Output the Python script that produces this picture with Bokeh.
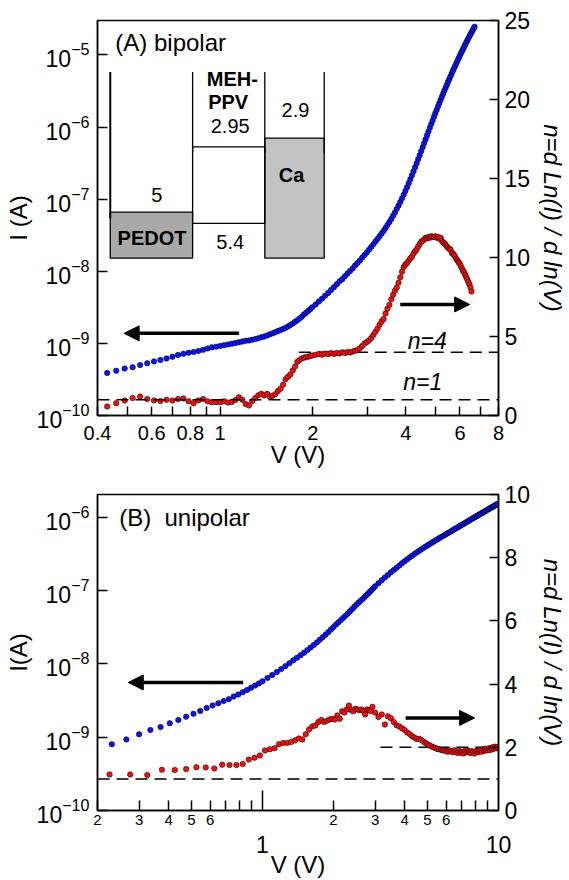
from bokeh.plotting import figure
from bokeh.layouts import column
from bokeh.models import (Range1d, LinearScale, LinearAxis, FixedTicker,
                          CustomJSTickFormatter, Arrow, NormalHead, Label, Span)
from bokeh.embed import file_html
from bokeh.resources import INLINE

FONT = "Liberation Sans"
BLUE = "#0a14f0"
RED = "#f01010"

# ---------------- Panel A (bipolar) ----------------
volt_A = [0.43, 0.46, 0.49, 0.52, 0.55, 0.58, 0.61, 0.64, 0.67, 0.70,
          0.73, 0.76, 0.79, 0.82, 0.85, 0.88, 0.91, 0.94, 0.97, 1.00,
          1.03, 1.06, 1.09, 1.12, 1.15, 1.18, 1.21, 1.24, 1.27, 1.30,
          1.33, 1.36, 1.39, 1.42, 1.45, 1.48, 1.51, 1.54, 1.57, 1.60,
          1.63, 1.66, 1.69, 1.72, 1.75, 1.78, 1.81, 1.84, 1.87, 1.90,
          1.93, 1.96, 1.99,
          2.04, 2.09, 2.14, 2.19, 2.24, 2.29, 2.34, 2.39, 2.44, 2.49,
          2.54, 2.59, 2.64, 2.69, 2.74, 2.79, 2.84, 2.89, 2.94, 2.99,
          3.04, 3.09, 3.14, 3.19, 3.24, 3.29, 3.34, 3.39, 3.44, 3.49,
          3.54, 3.59, 3.64, 3.69, 3.74, 3.79, 3.84, 3.89, 3.94, 3.99,
          4.04, 4.09, 4.14, 4.19, 4.24, 4.29, 4.34, 4.39, 4.44, 4.49,
          4.54, 4.59, 4.64, 4.69, 4.74, 4.79, 4.84, 4.89, 4.94, 4.99,
          5.04, 5.09, 5.14, 5.19, 5.24, 5.29, 5.34, 5.39, 5.44, 5.49,
          5.54, 5.59, 5.64, 5.69, 5.74, 5.79, 5.84, 5.89, 5.94, 5.99,
          6.04, 6.09, 6.14, 6.19, 6.24, 6.29, 6.34, 6.39, 6.44, 6.49,
          6.54, 6.59, 6.64, 6.69]

# log10 of current I (A)
log_current_A = [-9.41, -9.38, -9.35, -9.33, -9.30, -9.275, -9.25, -9.23, -9.21, -9.185,
                 -9.16, -9.145, -9.13, -9.12, -9.105, -9.09, -9.07, -9.055, -9.045, -9.035,
                 -9.025, -9.015, -9.005, -8.995, -8.985, -8.975, -8.965, -8.96, -8.95, -8.94,
                 -8.93, -8.915, -8.905, -8.89, -8.875, -8.86, -8.845, -8.83, -8.815, -8.80,
                 -8.785, -8.765, -8.745, -8.725, -8.70, -8.68, -8.655, -8.63, -8.60, -8.575,
                 -8.55, -8.525, -8.50,
                 -8.46, -8.42, -8.38, -8.34, -8.30, -8.26, -8.22, -8.18, -8.14, -8.11,
                 -8.07, -8.03, -7.995, -7.96, -7.92, -7.885, -7.85, -7.81, -7.775, -7.74,
                 -7.70, -7.663, -7.626, -7.589, -7.552, -7.515, -7.478, -7.44, -7.40, -7.36,
                 -7.318, -7.275, -7.23, -7.185, -7.138, -7.09, -7.04, -6.99, -6.94, -6.887,
                 -6.834, -6.78, -6.725, -6.67, -6.614, -6.558, -6.502, -6.446, -6.39, -6.335,
                 -6.28, -6.225, -6.17, -6.116, -6.063, -6.01, -5.958, -5.908, -5.858, -5.81,
                 -5.763, -5.716, -5.67, -5.625, -5.58, -5.537, -5.495, -5.454, -5.413, -5.373,
                 -5.334, -5.296, -5.258, -5.221, -5.185, -5.149, -5.114, -5.08, -5.046, -5.013,
                 -4.98, -4.948, -4.917, -4.886, -4.856, -4.826, -4.797, -4.769, -4.741, -4.714,
                 -4.687, -4.661, -4.635, -4.61]

# ideality factor n = d ln(I) / d ln(V)
ideality_A = [0.57, 0.78, 0.95, 1.10, 1.20, 1.05, 0.95, 0.91, 0.99, 0.95,
              1.05, 1.08, 0.90, 0.78, 0.95, 1.04, 0.90, 0.84, 0.84, 0.84,
              0.90, 0.82, 0.85, 0.98, 1.15, 1.00, 0.72, 0.63, 0.90, 1.10,
              1.28, 1.37, 1.27, 1.37, 1.18, 1.25, 1.35, 1.55, 1.70, 1.95,
              2.30, 2.45, 2.60, 2.85, 3.10, 3.40, 3.52, 3.60, 3.66, 3.70,
              3.72, 3.76, 3.80,
              3.84, 3.90, 3.85, 3.92, 3.88, 3.95, 3.90, 3.96, 3.93, 4.00,
              3.95, 4.02, 3.98, 4.05, 4.10, 4.15, 4.25, 4.40, 4.55, 4.65,
              4.75, 4.90, 5.10, 5.30, 5.50, 5.75, 5.95, 6.10, 6.45, 6.75,
              7.00, 7.35, 7.65, 7.90, 8.10, 8.40, 8.75, 9.10, 9.40, 9.55,
              9.65, 9.80, 9.95, 10.05, 10.25, 10.40, 10.50, 10.70, 10.85, 11.00,
              11.05, 11.15, 11.25, 11.20, 11.30, 11.25, 11.35, 11.30, 11.30, 11.35,
              11.25, 11.30, 11.20, 11.25, 11.05, 10.95, 10.90, 10.80, 10.70, 10.60,
              10.55, 10.50, 10.30, 10.25, 10.15, 10.05, 9.90, 9.80, 9.70, 9.60,
              9.45, 9.30, 9.15, 9.05, 8.90, 8.75, 8.60, 8.45, 8.30, 8.10,
              7.85]

# ---------------- Panel B (unipolar) ----------------
volt_B = [0.23, 0.265, 0.30, 0.335, 0.37, 0.405, 0.44, 0.475, 0.51, 0.545,
          0.58, 0.615, 0.65, 0.685, 0.72, 0.755, 0.79, 0.825, 0.86, 0.895,
          0.93, 0.965, 1.00,
          1.05, 1.10, 1.15, 1.20, 1.25, 1.30, 1.35, 1.40, 1.45, 1.50,
          1.55, 1.60, 1.65, 1.70, 1.75, 1.80, 1.85, 1.90, 1.95, 2.00,
          2.05, 2.10, 2.15, 2.20, 2.25, 2.30, 2.35, 2.40, 2.45, 2.50,
          2.55, 2.60, 2.65, 2.70, 2.75, 2.80, 2.85, 2.90, 2.95, 3.00,
          3.1, 3.2, 3.3, 3.4, 3.5, 3.6, 3.7, 3.8, 3.9, 4.0,
          4.1, 4.2, 4.3, 4.4, 4.5, 4.6, 4.7, 4.8, 4.9, 5.0,
          5.1, 5.2, 5.3, 5.4, 5.5, 5.6, 5.7, 5.8, 5.9, 6.0,
          6.1, 6.2, 6.3, 6.4, 6.5, 6.6, 6.7, 6.8, 6.9, 7.0,
          7.1, 7.2, 7.3, 7.4, 7.5, 7.6, 7.7, 7.8, 7.9, 8.0,
          8.1, 8.2, 8.3, 8.4, 8.5, 8.6, 8.7, 8.8, 8.9, 9.0,
          9.1, 9.2, 9.3, 9.4, 9.5, 9.6, 9.7, 9.8, 9.9]

log_current_B = [-9.095, -9.03, -8.96, -8.90, -8.86, -8.81, -8.765, -8.72, -8.68, -8.64,
                 -8.60, -8.565, -8.535, -8.505, -8.48, -8.445, -8.415, -8.385, -8.355, -8.325,
                 -8.295, -8.265, -8.235,
                 -8.19, -8.15, -8.11, -8.07, -8.03, -7.99, -7.95, -7.915, -7.88, -7.845,
                 -7.81, -7.775, -7.74, -7.705, -7.67, -7.635, -7.60, -7.565, -7.53, -7.495,
                 -7.46, -7.43, -7.40, -7.37, -7.34, -7.31, -7.28, -7.25, -7.22, -7.19,
                 -7.165, -7.14, -7.115, -7.09, -7.065, -7.04, -7.015, -6.99, -6.965, -6.94,
                 -6.898, -6.858, -6.82, -6.784, -6.749, -6.716, -6.685, -6.655, -6.626, -6.598,
                 -6.572, -6.547, -6.523, -6.50, -6.478, -6.457, -6.437, -6.418, -6.399, -6.381,
                 -6.364, -6.347, -6.331, -6.315, -6.299, -6.284, -6.269, -6.255, -6.241, -6.227,
                 -6.213, -6.20, -6.187, -6.174, -6.161, -6.148, -6.136, -6.124, -6.112, -6.10,
                 -6.088, -6.077, -6.065, -6.054, -6.043, -6.032, -6.021, -6.011, -6.00, -5.99,
                 -5.98, -5.97, -5.96, -5.95, -5.94, -5.931, -5.921, -5.912, -5.903, -5.893,
                 -5.884, -5.875, -5.866, -5.858, -5.849, -5.84, -5.832, -5.823, -5.815]

volt_B_n = [0.225, 0.275, 0.325, 0.375, 0.425, 0.475, 0.525, 0.575, 0.625, 0.675,
            0.725, 0.775, 0.825, 0.875, 0.925, 0.975, 1.025, 1.075, 1.125, 1.175,
            1.225, 1.275, 1.325, 1.375, 1.425, 1.475, 1.525, 1.575, 1.625, 1.675,
            1.725, 1.775, 1.825, 1.875, 1.925, 1.975, 2.025, 2.075, 2.125, 2.175,
            2.225, 2.275, 2.325, 2.375, 2.425, 2.475, 2.525, 2.575, 2.625, 2.675,
            2.725, 2.775, 2.825, 2.875, 2.925,
            3.0, 3.1, 3.2, 3.3, 3.4, 3.5, 3.6, 3.7, 3.8, 3.9,
            4.0, 4.1, 4.2, 4.3, 4.4, 4.5, 4.6, 4.7, 4.8, 4.9,
            5.0, 5.1, 5.2, 5.3, 5.4, 5.5, 5.6, 5.7, 5.8, 5.9,
            6.0, 6.1, 6.2, 6.3, 6.4, 6.5, 6.6, 6.7, 6.8, 6.9,
            7.0, 7.1, 7.2, 7.3, 7.4, 7.5, 7.6, 7.7, 7.8, 7.9,
            8.0, 8.1, 8.2, 8.3, 8.4, 8.5, 8.6, 8.7, 8.8, 8.9,
            9.0, 9.1, 9.2, 9.3, 9.4, 9.5, 9.6, 9.7, 9.8, 9.9]

ideality_B = [1.14, 1.14, 1.12, 1.29, 1.28, 1.31, 1.37, 1.36, 1.33, 1.45,
              1.44, 1.44, 1.47, 1.61, 1.67, 1.74, 1.90, 1.94, 1.97, 2.10,
              2.14, 2.14, 2.17, 2.22, 2.28, 2.25, 2.41, 2.56, 2.66, 2.69,
              2.80, 2.86, 2.80, 2.84, 2.88, 2.90, 2.88, 3.01, 2.90, 3.14,
              3.10, 3.20, 3.32, 3.18, 3.14, 3.22, 3.20, 3.17, 3.20, 3.15,
              3.04, 3.20, 3.17, 3.15, 3.28,
              3.10, 2.96, 3.04, 2.72, 2.98, 2.92, 2.80, 2.70, 2.66, 2.60,
              2.55, 2.47, 2.42, 2.35, 2.31, 2.26, 2.27, 2.24, 2.18, 2.14,
              2.10, 2.06, 2.03, 2.00, 1.98, 1.95, 1.94, 1.92, 1.90, 1.91,
              1.88, 1.86, 1.90, 1.87, 1.84, 1.91, 1.86, 1.82, 1.88, 1.83,
              1.86, 1.80, 1.88, 1.84, 1.90, 1.85, 1.82, 1.88, 1.84, 1.80,
              1.87, 1.90, 1.84, 1.88, 1.92, 1.86, 1.93, 1.89, 1.95, 1.90,
              1.93, 1.97, 1.91, 1.98, 1.94, 2.01, 1.96, 2.02, 1.97, 2.00]

# reference ideality levels (dashed lines)
levels_A = [1, 4]
levels_B = [1, 2]

# ticks
ticks_xA_labeled = [0.4, 0.6, 0.8, 1, 2, 4, 6, 8]
ticks_xA_other = [0.5, 0.7, 0.9, 3, 5, 7]
decades_A = [1e-10, 1e-9, 1e-8, 1e-7, 1e-6, 1e-5]
ticks_nA = [0, 5, 10, 15, 20, 25]
ticks_xB_small = [0.2, 0.3, 0.4, 0.5, 0.6, 2, 3, 4, 5, 6]
ticks_xB_other = [0.7, 0.8, 0.9, 7, 8, 9]
ticks_xB_decades = [1, 10]
decades_B = [1e-10, 1e-9, 1e-8, 1e-7, 1e-6]
ticks_nB = [0, 2, 4, 6, 8, 10]


def pairs(x, y):
    k = min(len(x), len(y))
    return list(x[:k]), list(y[:k])


def base_fig(height, x_lo, x_hi, y_hi, n_hi, top, bottom):
    p = figure(width=569, height=height, x_axis_type="log", y_axis_type="log",
               x_range=Range1d(x_lo, x_hi), y_range=Range1d(1e-10, y_hi),
               output_backend="svg", toolbar_location=None,
               min_border_left=97, min_border_right=67,
               min_border_top=top, min_border_bottom=bottom)
    p.extra_y_ranges = {"n": Range1d(0, n_hi)}
    p.extra_y_scales = {"n": LinearScale()}
    p.xgrid.visible = False
    p.ygrid.visible = False
    p.outline_line_color = "black"
    p.outline_line_width = 1.5
    p.outline_line_alpha = 1.0
    p.background_fill_color = "white"
    p.border_fill_color = "white"
    return p


def style_axis(ax, size):
    ax.axis_line_width = 1.5
    ax.axis_line_color = "black"
    ax.major_tick_line_width = 1.5
    ax.minor_tick_line_width = 1.5
    ax.major_tick_line_color = "black"
    ax.minor_tick_line_color = "black"
    ax.major_tick_out = 0
    ax.minor_tick_out = 0
    ax.major_label_text_font = FONT
    ax.major_label_text_font_size = size
    ax.major_label_text_color = "black"
    ax.axis_label_text_font = FONT
    ax.axis_label_text_font_style = "normal"
    ax.axis_label_text_font_size = "24px"
    ax.axis_label_text_color = "black"


def left_axis(p, decades, label):
    ax = p.left[0]
    style_axis(ax, "23px")
    ax.ticker = FixedTicker(ticks=decades, minor_ticks=[])
    ax.major_tick_in = 10
    ax.minor_tick_in = 0
    ax.major_label_standoff = 8
    ax.axis_label = label
    ax.axis_label_standoff = 2


def right_axis(p, ticks):
    ax = LinearAxis(y_range_name="n", ticker=FixedTicker(ticks=ticks, minor_ticks=[]),
                    axis_label="n=d Ln(I) / d ln(V)")
    style_axis(ax, "23px")
    ax.major_tick_in = 9
    ax.minor_tick_in = 0
    ax.major_label_standoff = 6
    ax.axis_label_text_font_style = "italic"
    ax.axis_label_standoff = 6
    p.add_layout(ax, "right")


def data_layers(p, vI, logI, vN, nvals):
    x1, y1 = pairs(vI, [10 ** v for v in logI])
    p.scatter(x1, y1, size=5.5, marker="circle", fill_color=BLUE,
              line_color="black", line_width=0.5)
    x2, y2 = pairs(vN, nvals)
    p.scatter(x2, y2, size=5.5, marker="circle", fill_color=RED,
              line_color="black", line_width=0.5, y_range_name="n")


def arrow(p, x0, x1, y, rng="default"):
    a = Arrow(end=NormalHead(size=15, fill_color="black", line_color="black", line_width=1),
              x_start=x0, y_start=y, x_end=x1, y_end=y,
              line_width=3.5, line_color="black", y_range_name=rng)
    p.add_layout(a)


def label(p, x, y, text, size="20px", style="normal", align="center", rng="default"):
    p.add_layout(Label(x=x, y=y, text=text, text_font=FONT, text_font_size=size,
                       text_font_style=style, text_align=align, text_baseline="middle",
                       text_color="black", y_range_name=rng))


DASH = "12 7"

# ================= Figure A =================
pA = base_fig(476, 0.4, 8.0, 3.0e-5, 25, 20, 61)
left_axis(pA, decades_A, "I (A)")
right_axis(pA, ticks_nA)
axA = pA.below[0]
style_axis(axA, "20px")
axA.ticker = FixedTicker(ticks=ticks_xA_labeled, minor_ticks=ticks_xA_other)
axA.formatter = CustomJSTickFormatter(code="return tick >= 1 ? tick.toFixed(0) : tick.toFixed(1);")
axA.major_tick_in = 9
axA.minor_tick_in = 9
axA.major_label_standoff = 10
axA.axis_label = "V (V)"
axA.axis_label_standoff = -2

# dashed reference levels
pA.add_layout(Span(location=levels_A[0], dimension="width", y_range_name="n",
                   line_color="black", line_width=1.5, line_dash=DASH))
pA.line([1.80, 8.0], [levels_A[1], levels_A[1]], y_range_name="n",
        line_color="black", line_width=1.5, line_dash=DASH)

# energy-level diagram (inset)
pA.quad(left=[0.44, 1.396], right=[0.814, 2.176], top=[6.6e-8, 7.0e-7], bottom=[1.52e-8, 1.52e-8],
        fill_color=["#a9a9a9", "#c2c2c2"], line_color="black", line_width=1.3)
pA.quad(left=[0.814], right=[1.396], top=[5.3e-7], bottom=[4.6e-8],
        fill_color=None, line_color="black", line_width=1.3)
pA.segment(x0=[0.44, 0.814, 1.396, 2.176], y0=[5.8e-6, 5.8e-6, 5.8e-6, 5.8e-6],
           x1=[0.44, 0.814, 1.396, 2.176], y1=[5.4e-8, 4.35e-7, 4.35e-7, 4.35e-7],
           line_color="black", line_width=[2, 1.3, 1.3, 1.3])
label(pA, 0.623, 1.14e-7, "5")
label(pA, 0.601, 2.87e-8, "PEDOT", style="bold")
label(pA, 1.095, 4.64e-6, "MEH-", style="bold")
label(pA, 1.062, 2.22e-6, "PPV", style="bold")
label(pA, 1.078, 1.03e-6, "2.95")
label(pA, 1.756, 1.72e-6, "2.9")
label(pA, 1.705, 2.15e-7, "Ca", style="bold")
label(pA, 1.078, 2.53e-8, "5.4")
label(pA, 0.457, 1.47e-5, "(A) bipolar", size="24px", align="left")
label(pA, 4.70, 4.70, "n=4", size="23px", style="italic", rng="n")
label(pA, 4.54, 2.12, "n=1", size="23px", style="italic", rng="n")

data_layers(pA, volt_A, log_current_A, volt_A, ideality_A)
arrow(pA, 1.152, 0.488, 1.377e-9)
arrow(pA, 3.84, 6.45, 7.03, rng="n")

# ================= Figure B =================
pB = base_fig(404, 0.2, 10.0, 2.06e-6, 10, 18, 69)
left_axis(pB, decades_B, "I(A)")
right_axis(pB, ticks_nB)

ax_t = pB.below[0]
style_axis(ax_t, "1px")
ax_t.ticker = FixedTicker(ticks=[ticks_xB_decades[0]], minor_ticks=ticks_xB_small + ticks_xB_other)
ax_t.formatter = CustomJSTickFormatter(code="return '';")
ax_t.major_tick_in = 20
ax_t.minor_tick_in = 10
ax_t.major_label_standoff = 0

ax_s = LinearAxis(ticker=FixedTicker(ticks=ticks_xB_small, minor_ticks=[]),
                  formatter=CustomJSTickFormatter(
                      code="return tick < 1 ? (tick * 10).toFixed(0) : tick.toFixed(0);"))
style_axis(ax_s, "15px")
ax_s.axis_line_color = None
ax_s.major_tick_in = 0
ax_s.minor_tick_in = 0
ax_s.major_label_standoff = 4
pB.add_layout(ax_s, "below")

ax_b = LinearAxis(ticker=FixedTicker(ticks=ticks_xB_decades, minor_ticks=[]),
                  formatter=CustomJSTickFormatter(code="return tick.toFixed(0);"),
                  axis_label="V (V)")
style_axis(ax_b, "23px")
ax_b.axis_line_color = None
ax_b.major_tick_in = 0
ax_b.minor_tick_in = 0
ax_b.major_label_standoff = 8
ax_b.axis_label_standoff = -5
pB.add_layout(ax_b, "below")

pB.add_layout(Span(location=levels_B[0], dimension="width", y_range_name="n",
                   line_color="black", line_width=1.5, line_dash=DASH))
pB.line([3.16, 10.0], [levels_B[1], levels_B[1]], y_range_name="n",
        line_color="black", line_width=1.5, line_dash=DASH)

label(pB, 0.247, 1.0e-6, "(B)\u00a0\u00a0unipolar", size="24px", align="left")

data_layers(pB, volt_B, log_current_B, volt_B_n, ideality_B)
arrow(pB, 0.828, 0.270, 5.6e-9)
arrow(pB, 4.04, 7.92, 2.93, rng="n")

layout = column(pA, pB)
open("out.html", "w").write(file_html(layout, INLINE, "I-V characteristics"))
